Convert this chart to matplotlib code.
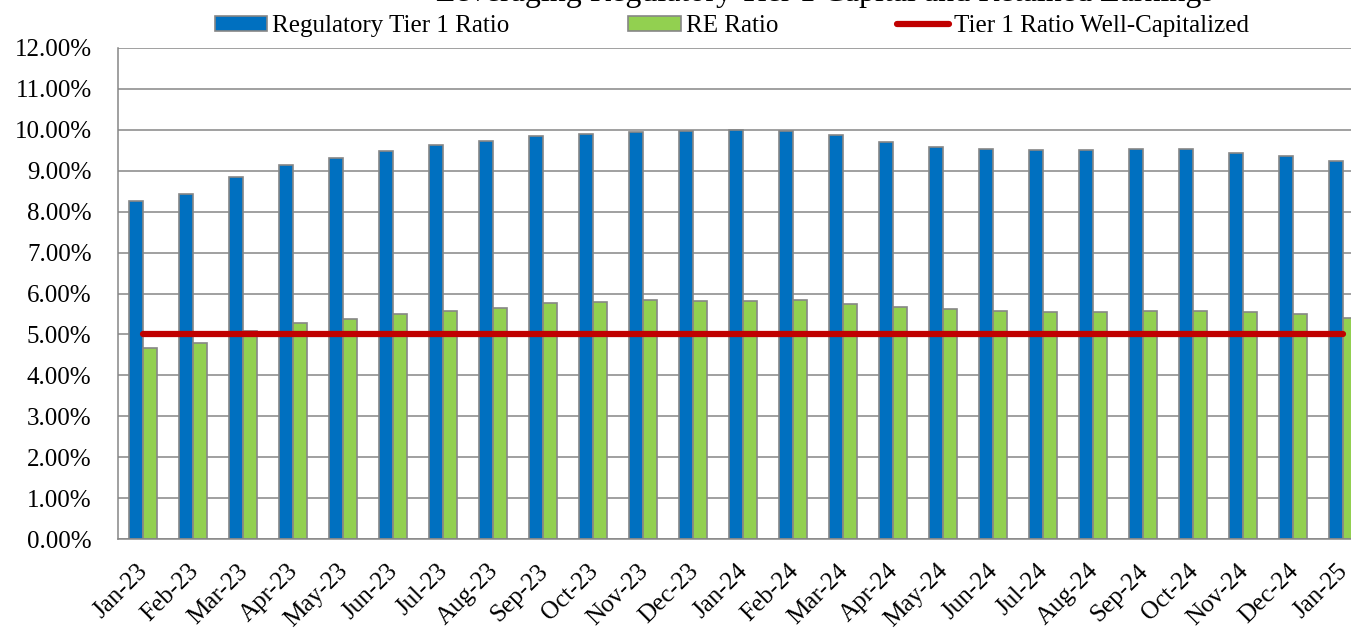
import matplotlib.pyplot as plt
import matplotlib.transforms as mtransforms
import numpy as np

plt.rcParams['font.family'] = ['Liberation Serif', 'DejaVu Serif']

# Дерек
months = ['Jan-23', 'Feb-23', 'Mar-23', 'Apr-23', 'May-23', 'Jun-23', 'Jul-23', 'Aug-23',
          'Sep-23', 'Oct-23', 'Nov-23', 'Dec-23', 'Jan-24', 'Feb-24', 'Mar-24', 'Apr-24',
          'May-24', 'Jun-24', 'Jul-24', 'Aug-24', 'Sep-24', 'Oct-24', 'Nov-24', 'Dec-24', 'Jan-25']
tier1 = [8.26, 8.43, 8.84, 9.15, 9.31, 9.49, 9.62, 9.72, 9.86, 9.90, 9.95, 9.98, 9.99,
         9.97, 9.87, 9.70, 9.59, 9.53, 9.51, 9.50, 9.52, 9.52, 9.44, 9.36, 9.24]
re_ratio = [4.66, 4.78, 5.09, 5.27, 5.38, 5.50, 5.58, 5.65, 5.78, 5.80, 5.83, 5.82, 5.82,
            5.83, 5.75, 5.67, 5.61, 5.57, 5.56, 5.56, 5.58, 5.58, 5.54, 5.50, 5.41]
well_cap = [5.0] * len(months)

blue = '#0070C0'
green = '#92D050'
red = '#C00000'
gray = '#868686'

fig = plt.figure(figsize=(13.51, 6.29), dpi=100, facecolor='white')
ax = fig.add_axes([118 / 1351, 90 / 629, 1250 / 1351, 491 / 629])

x = np.arange(len(months))
w = 0.28
b1 = ax.bar(x - w / 2, tier1, width=w, color=blue, edgecolor=gray, linewidth=1.2,
            label='Regulatory Tier 1 Ratio', zorder=2)
b2 = ax.bar(x + w / 2, re_ratio, width=w, color=green, edgecolor=gray, linewidth=1.2,
            label='RE Ratio', zorder=2)
l1, = ax.plot(x, well_cap, color=red, linewidth=4.5, solid_capstyle='round',
              label='Tier 1 Ratio Well-Capitalized', zorder=3)

ax.set_xlim(-0.5, len(months) - 0.5)
ax.set_ylim(0, 12)
ax.set_yticks(np.arange(0, 12.01, 1))
ax.set_yticklabels([f'{v:.2f}%' for v in np.arange(0, 12.01, 1)])
ax.set_xticks(x)
ax.set_xticklabels(months, rotation=45, ha='right', va='top', rotation_mode='anchor')
ax.tick_params(axis='y', length=0, pad=19, labelsize=18)
ax.tick_params(axis='x', length=0, pad=15, labelsize=18)

# жазуларды солға сәл жылжыту
shift = mtransforms.ScaledTranslation(-6 / 100, 0, fig.dpi_scale_trans)
for lab in ax.get_xticklabels():
    lab.set_transform(lab.get_transform() + shift)

ax.grid(axis='y', color=gray, linewidth=1.1, zorder=0)
ax.set_axisbelow(True)
for side in ['top', 'right']:
    ax.spines[side].set_visible(False)
for side in ['left', 'bottom']:
    ax.spines[side].set_color(gray)
    ax.spines[side].set_linewidth(1.1)

# Тақырып (жоғарғы жағы кесілген)
fig.text(436 / 1351, 1 - 1 / 629, 'Leveraging Regulatory Tier 1 Capital and Retained Earnings',
         fontsize=23, ha='left', va='baseline')

fig.legend([b1, b2, l1], ['Regulatory Tier 1 Ratio', 'RE Ratio', 'Tier 1 Ratio Well-Capitalized'],
           loc='center', bbox_to_anchor=(732 / 1351, 1 - 26 / 629), ncol=3, frameon=False,
           fontsize=18, handlelength=2.1, handleheight=0.55, handletextpad=0.2,
           columnspacing=4.75)

fig.savefig('out.png', dpi=100, facecolor='white')
